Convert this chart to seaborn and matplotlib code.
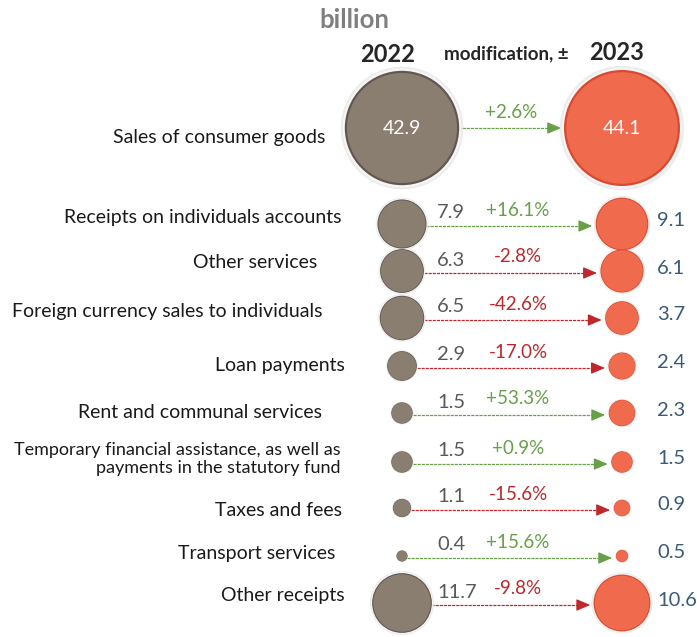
import numpy as np
import pandas as pd
import matplotlib
matplotlib.use("Agg")
import matplotlib.pyplot as plt
import seaborn as sns

# data
categories = ["Sales of consumer goods",
              "Receipts on individuals accounts",
              "Other services",
              "Foreign currency sales to individuals",
              "Loan payments",
              "Rent and communal services",
              "Temporary financial assistance, as well as\npayments in the statutory fund",
              "Taxes and fees",
              "Transport services",
              "Other receipts"]
v2022 = [42.9, 7.9, 6.3, 6.5, 2.9, 1.5, 1.5, 1.1, 0.4, 11.7]
v2023 = [44.1, 9.1, 6.1, 3.7, 2.4, 2.3, 1.5, 0.9, 0.5, 10.6]
change = [2.6, 16.1, -2.8, -42.6, -17.0, 53.3, 0.9, -15.6, 15.6, -9.8]

# layout (pixels, figure is 697x637)
row_y = [128, 224, 271, 318, 366, 413, 462, 508, 556, 603]
label_y = [138, 217, 263, 312, 366, 412, 459, 510, 553, 595]
label_right = [325, 342, 317, 323, 345, 322, 341, 342, 335, 345]
label_size = [14, 14, 14, 14, 14, 14, 13, 14, 14, 14]
x_left, x_right = 402, 622
k = 170  # marker area per unit of value (pt^2)

green = "#67a046"
red = "#c0272d"

sns.set_theme(style="white")
plt.rcParams['font.family'] = ['Lato', 'DejaVu Sans']

fig = plt.figure(figsize=(6.97, 6.37), dpi=100)
ax = fig.add_axes([0, 0, 1, 1])
ax.set_xlim(0, 697)
ax.set_ylim(637, 0)
ax.axis("off")

df = pd.DataFrame({"cat": categories * 2,
                   "value": v2022 + v2023,
                   "year": ["2022"] * 10 + ["2023"] * 10,
                   "y": row_y * 2})
df["x"] = np.where(df["year"] == "2022", x_left, x_right)
vmax = df["value"].max()

# circles, a few layers for the glossy look
layers = [(1.07, {"2022": "#e4e4e4", "2023": "#e4e4e4"}, 0.7),
          (1.0, {"2022": "#f6f6f6", "2023": "#f6f6f6"}, 1.0),
          (0.93, {"2022": "#625850", "2023": "#d9482f"}, 1.0),
          (0.86, {"2022": "#8a7e71", "2023": "#f06a4e"}, 1.0)]
for scale, cols, a in layers:
    for yr in ["2022", "2023"]:
        sub = df[df["year"] == yr]
        sns.scatterplot(data=sub, x="x", y="y", size="value",
                        sizes=(0, k * vmax * scale), size_norm=(0, vmax),
                        color=cols[yr], alpha=a, linewidth=0,
                        legend=False, ax=ax, zorder=3)


def radius_px(v):
    return np.sqrt(k * v) / 2 * 100 / 72


# arrows and texts
for i, cat in enumerate(categories):
    y = row_y[i]
    col = green if change[i] >= 0 else red
    x0 = x_left + radius_px(v2022[i]) * 0.95
    x1 = x_right - radius_px(v2023[i]) * 0.95 - 1
    ya = y + 2 if i > 0 else y
    ax.plot([x0, x1 - 8], [ya, ya], color=col, lw=0.9,
            linestyle=(0, (2.5, 0.8)), zorder=2)
    ax.annotate("", xy=(x1, ya), xytext=(x1 - 10, ya),
                arrowprops=dict(arrowstyle="-|>,head_length=0.7,head_width=0.3",
                                color=col, lw=0.9), zorder=2)
    pct = f"{change[i]:+.1f}%"
    if i == 0:
        ax.text(511, 112, pct, color=col, fontsize=13.5, ha="center", va="center")
        ax.text(x_left, y, f"{v2022[i]:.1f}", color="white", fontsize=14,
                ha="center", va="center", zorder=5)
        ax.text(x_right, y, f"{v2023[i]:.1f}", color="white", fontsize=14,
                ha="center", va="center", zorder=5)
    else:
        ax.text(518, y - 14, pct, color=col, fontsize=13.5, ha="center", va="center")
        ax.text(437, y - 11, f"{v2022[i]:.1f}", color="#595959", fontsize=14.5,
                ha="left", va="center")
        ax.text(657, y - 3, f"{v2023[i]:.1f}", color="#3b5a78", fontsize=14.5,
                ha="left", va="center")
    ax.text(label_right[i], label_y[i], cat, color="#1a1a1a", fontsize=label_size[i],
            ha="right", va="center", multialignment="right", linespacing=1.1)

# headers
ax.text(354, 20, "billion", color="#7f7f7f", fontsize=18.5, fontweight="bold",
        ha="center", va="center")
ax.text(388, 55, "2022", color="#262626", fontsize=17, fontweight="bold",
        ha="center", va="center")
ax.text(506, 54, "modification, \u00b1", color="#262626", fontsize=13.5,
        fontweight="bold", ha="center", va="center")
ax.text(617, 52, "2023", color="#262626", fontsize=17, fontweight="bold",
        ha="center", va="center")

plt.savefig("out.png", dpi=100)
